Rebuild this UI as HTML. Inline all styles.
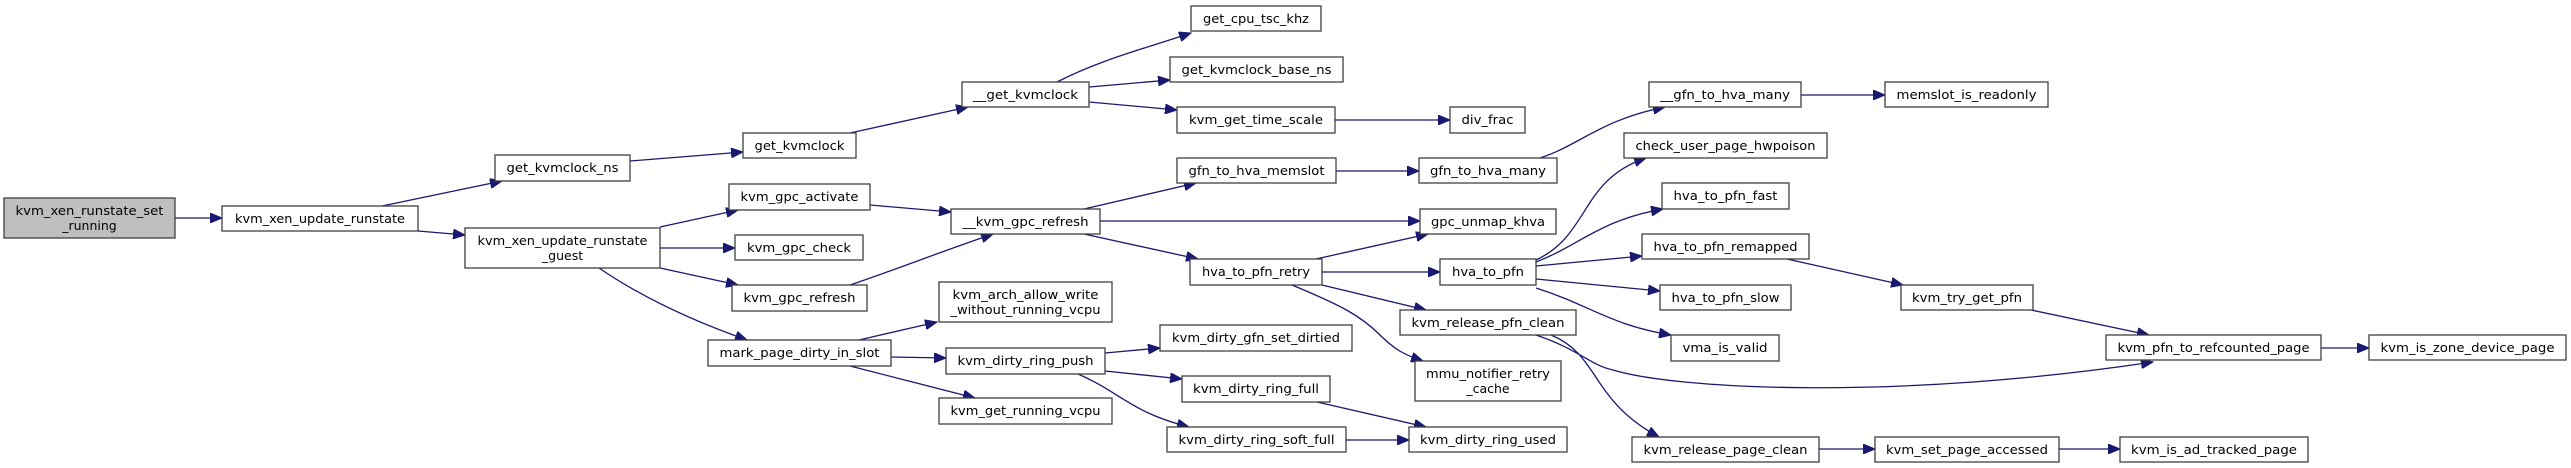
<!DOCTYPE html>
<html><head><meta charset="utf-8"><style>
html,body{margin:0;padding:0;background:#fff;}
svg{display:block;}
text{font-family:"DejaVu Sans","Liberation Sans",sans-serif;font-size:12.5px;fill:#000;text-anchor:middle;}
rect{fill:#fff;stroke:#404040;stroke-width:1.3;}
path{fill:none;stroke:#191970;stroke-width:1.3;}
</style></head><body>
<svg width="2571" height="468" viewBox="0 0 2571 468" xmlns="http://www.w3.org/2000/svg">
<defs>
<marker id="a" markerUnits="userSpaceOnUse" markerWidth="13" markerHeight="10" refX="12" refY="5" orient="auto">
<polygon points="0,0 12,5 0,10" fill="#191970" stroke="#191970"/>
</marker>
</defs>
<g marker-end="url(#a)">
<path d="M175,218 L222,218"/>
<path d="M382,206 L502,181"/>
<path d="M418,231 L465,235"/>
<path d="M630,161 L743,152"/>
<path d="M850,133 L968,107"/>
<path d="M1057,82 C1100,60 1140,50 1191,33"/>
<path d="M1089,87 L1170,80"/>
<path d="M1089,102 L1177,110"/>
<path d="M1335,120 L1450,120"/>
<path d="M660,227 L738,210"/>
<path d="M660,248 L735,248"/>
<path d="M660,268 L738,285"/>
<path d="M599,268 C640,296 690,320 747,340"/>
<path d="M870,205 L951,212"/>
<path d="M850,285 C900,268 940,252 993,234"/>
<path d="M1084,209 L1196,183"/>
<path d="M1100,221 L1420,221"/>
<path d="M1084,234 L1198,259"/>
<path d="M1336,171 L1419,171"/>
<path d="M1540,158 C1580,145 1600,120 1665,107"/>
<path d="M1801,95 L1885,95"/>
<path d="M1316,259 L1428,234"/>
<path d="M1322,272 L1440,272"/>
<path d="M1322,285 L1426,310"/>
<path d="M1292,285 C1340,305 1360,315 1380,335 C1395,350 1405,355 1423,361"/>
<path d="M1536,260 C1590,235 1580,180 1646,158"/>
<path d="M1536,262 C1580,245 1600,220 1663,209"/>
<path d="M1536,266 L1642,256"/>
<path d="M1536,279 L1660,291"/>
<path d="M1536,288 C1590,305 1610,325 1671,335"/>
<path d="M1787,259 L1903,285"/>
<path d="M2031,310 L2149,335"/>
<path d="M1536,335 C1580,350 1590,365 1613,370 C1680,390 1900,400 2153,362"/>
<path d="M1551,335 C1600,355 1590,400 1659,437"/>
<path d="M1819,449 L1875,449"/>
<path d="M2059,449 L2120,449"/>
<path d="M2321,348 L2369,348"/>
<path d="M859,340 L937,322"/>
<path d="M891,357 L946,358"/>
<path d="M850,366 L975,398"/>
<path d="M1105,353 L1160,348"/>
<path d="M1105,371 L1182,379"/>
<path d="M1078,374 C1120,392 1130,412 1189,427"/>
<path d="M1317,402 L1426,427"/>
<path d="M1346,440 L1409,440"/>
</g>

<rect x="4" y="198" width="171" height="40" style="fill:#bfbfbf"/>
<text x="89.5" y="215" textLength="148" lengthAdjust="spacingAndGlyphs">kvm_xen_runstate_set</text>
<text x="89.5" y="230">_running</text>

<rect x="222" y="206" width="196" height="25"/><text x="320" y="223" textLength="170" lengthAdjust="spacingAndGlyphs">kvm_xen_update_runstate</text>
<rect x="495" y="155" width="135" height="26"/><text x="562.5" y="172" textLength="112" lengthAdjust="spacingAndGlyphs">get_kvmclock_ns</text>
<rect x="465" y="228" width="195" height="40"/><text x="562.5" y="245" textLength="170" lengthAdjust="spacingAndGlyphs">kvm_xen_update_runstate</text><text x="562.5" y="260">_guest</text>

<rect x="1191" y="6" width="130" height="25"/><text x="1256" y="23" textLength="106" lengthAdjust="spacingAndGlyphs">get_cpu_tsc_khz</text>
<rect x="1170" y="57" width="173" height="25"/><text x="1256.5" y="74" textLength="150" lengthAdjust="spacingAndGlyphs">get_kvmclock_base_ns</text>
<rect x="962" y="82" width="127" height="25"/><text x="1025.5" y="99" textLength="105" lengthAdjust="spacingAndGlyphs">__get_kvmclock</text>
<rect x="1177" y="107" width="158" height="26"/><text x="1256" y="124" textLength="134" lengthAdjust="spacingAndGlyphs">kvm_get_time_scale</text>
<rect x="743" y="133" width="113" height="25"/><text x="799.5" y="150" textLength="90" lengthAdjust="spacingAndGlyphs">get_kvmclock</text>
<rect x="1177" y="158" width="159" height="25"/><text x="1256.5" y="175" textLength="136" lengthAdjust="spacingAndGlyphs">gfn_to_hva_memslot</text>
<rect x="729" y="184" width="141" height="26"/><text x="799.5" y="201" textLength="118" lengthAdjust="spacingAndGlyphs">kvm_gpc_activate</text>
<rect x="951" y="209" width="149" height="25"/><text x="1025.5" y="226" textLength="126" lengthAdjust="spacingAndGlyphs">__kvm_gpc_refresh</text>
<rect x="735" y="235" width="128" height="25"/><text x="799" y="252" textLength="104" lengthAdjust="spacingAndGlyphs">kvm_gpc_check</text>
<rect x="1190" y="259" width="132" height="26"/><text x="1256" y="276" textLength="108" lengthAdjust="spacingAndGlyphs">hva_to_pfn_retry</text>
<rect x="732" y="285" width="135" height="26"/><text x="799.5" y="302" textLength="112" lengthAdjust="spacingAndGlyphs">kvm_gpc_refresh</text>
<rect x="939" y="282" width="173" height="40"/><text x="1025.5" y="299" textLength="146" lengthAdjust="spacingAndGlyphs">kvm_arch_allow_write</text><text x="1025.5" y="314" textLength="150" lengthAdjust="spacingAndGlyphs">_without_running_vcpu</text>
<rect x="1160" y="325" width="192" height="26"/><text x="1256" y="342" textLength="168" lengthAdjust="spacingAndGlyphs">kvm_dirty_gfn_set_dirtied</text>
<rect x="708" y="340" width="183" height="26"/><text x="799.5" y="357" textLength="160" lengthAdjust="spacingAndGlyphs">mark_page_dirty_in_slot</text>
<rect x="946" y="348" width="159" height="26"/><text x="1025.5" y="365" textLength="136" lengthAdjust="spacingAndGlyphs">kvm_dirty_ring_push</text>
<rect x="1182" y="376" width="148" height="26"/><text x="1256" y="393" textLength="126" lengthAdjust="spacingAndGlyphs">kvm_dirty_ring_full</text>
<rect x="939" y="398" width="173" height="26"/><text x="1025.5" y="415" textLength="150" lengthAdjust="spacingAndGlyphs">kvm_get_running_vcpu</text>
<rect x="1167" y="427" width="179" height="25"/><text x="1256.5" y="444" textLength="156" lengthAdjust="spacingAndGlyphs">kvm_dirty_ring_soft_full</text>

<rect x="1649" y="82" width="152" height="25"/><text x="1725" y="99" textLength="130" lengthAdjust="spacingAndGlyphs">__gfn_to_hva_many</text>
<rect x="1885" y="82" width="163" height="25"/><text x="1966.5" y="99" textLength="140" lengthAdjust="spacingAndGlyphs">memslot_is_readonly</text>
<rect x="1450" y="107" width="75" height="26"/><text x="1487.5" y="124" textLength="52" lengthAdjust="spacingAndGlyphs">div_frac</text>
<rect x="1624" y="133" width="203" height="25"/><text x="1725.5" y="150" textLength="180" lengthAdjust="spacingAndGlyphs">check_user_page_hwpoison</text>
<rect x="1419" y="158" width="138" height="25"/><text x="1488" y="175" textLength="116" lengthAdjust="spacingAndGlyphs">gfn_to_hva_many</text>
<rect x="1662" y="183" width="127" height="26"/><text x="1725.5" y="200" textLength="104" lengthAdjust="spacingAndGlyphs">hva_to_pfn_fast</text>
<rect x="1420" y="209" width="136" height="25"/><text x="1488" y="226" textLength="114" lengthAdjust="spacingAndGlyphs">gpc_unmap_khva</text>
<rect x="1642" y="234" width="167" height="25"/><text x="1725.5" y="251" textLength="144" lengthAdjust="spacingAndGlyphs">hva_to_pfn_remapped</text>
<rect x="1440" y="259" width="96" height="26"/><text x="1488" y="276" textLength="72" lengthAdjust="spacingAndGlyphs">hva_to_pfn</text>
<rect x="1660" y="285" width="131" height="25"/><text x="1725.5" y="302" textLength="108" lengthAdjust="spacingAndGlyphs">hva_to_pfn_slow</text>
<rect x="1901" y="285" width="132" height="25"/><text x="1967" y="302" textLength="110" lengthAdjust="spacingAndGlyphs">kvm_try_get_pfn</text>
<rect x="1400" y="310" width="176" height="25"/><text x="1488" y="327" textLength="153" lengthAdjust="spacingAndGlyphs">kvm_release_pfn_clean</text>
<rect x="1671" y="335" width="108" height="26"/><text x="1725" y="352" textLength="85" lengthAdjust="spacingAndGlyphs">vma_is_valid</text>
<rect x="1415" y="361" width="146" height="40"/><text x="1488" y="378" textLength="124" lengthAdjust="spacingAndGlyphs">mmu_notifier_retry</text><text x="1488" y="393">_cache</text>
<rect x="1409" y="427" width="158" height="25"/><text x="1488" y="444" textLength="136" lengthAdjust="spacingAndGlyphs">kvm_dirty_ring_used</text>
<rect x="1632" y="437" width="187" height="25"/><text x="1725.5" y="454" textLength="164" lengthAdjust="spacingAndGlyphs">kvm_release_page_clean</text>
<rect x="1875" y="437" width="184" height="25"/><text x="1967" y="454" textLength="162" lengthAdjust="spacingAndGlyphs">kvm_set_page_accessed</text>
<rect x="2106" y="335" width="215" height="25"/><text x="2213.5" y="352" textLength="192" lengthAdjust="spacingAndGlyphs">kvm_pfn_to_refcounted_page</text>
<rect x="2369" y="335" width="197" height="25"/><text x="2467.5" y="352" textLength="174" lengthAdjust="spacingAndGlyphs">kvm_is_zone_device_page</text>
<rect x="2120" y="437" width="188" height="25"/><text x="2214" y="454" textLength="166" lengthAdjust="spacingAndGlyphs">kvm_is_ad_tracked_page</text>
</svg>
</body></html>
